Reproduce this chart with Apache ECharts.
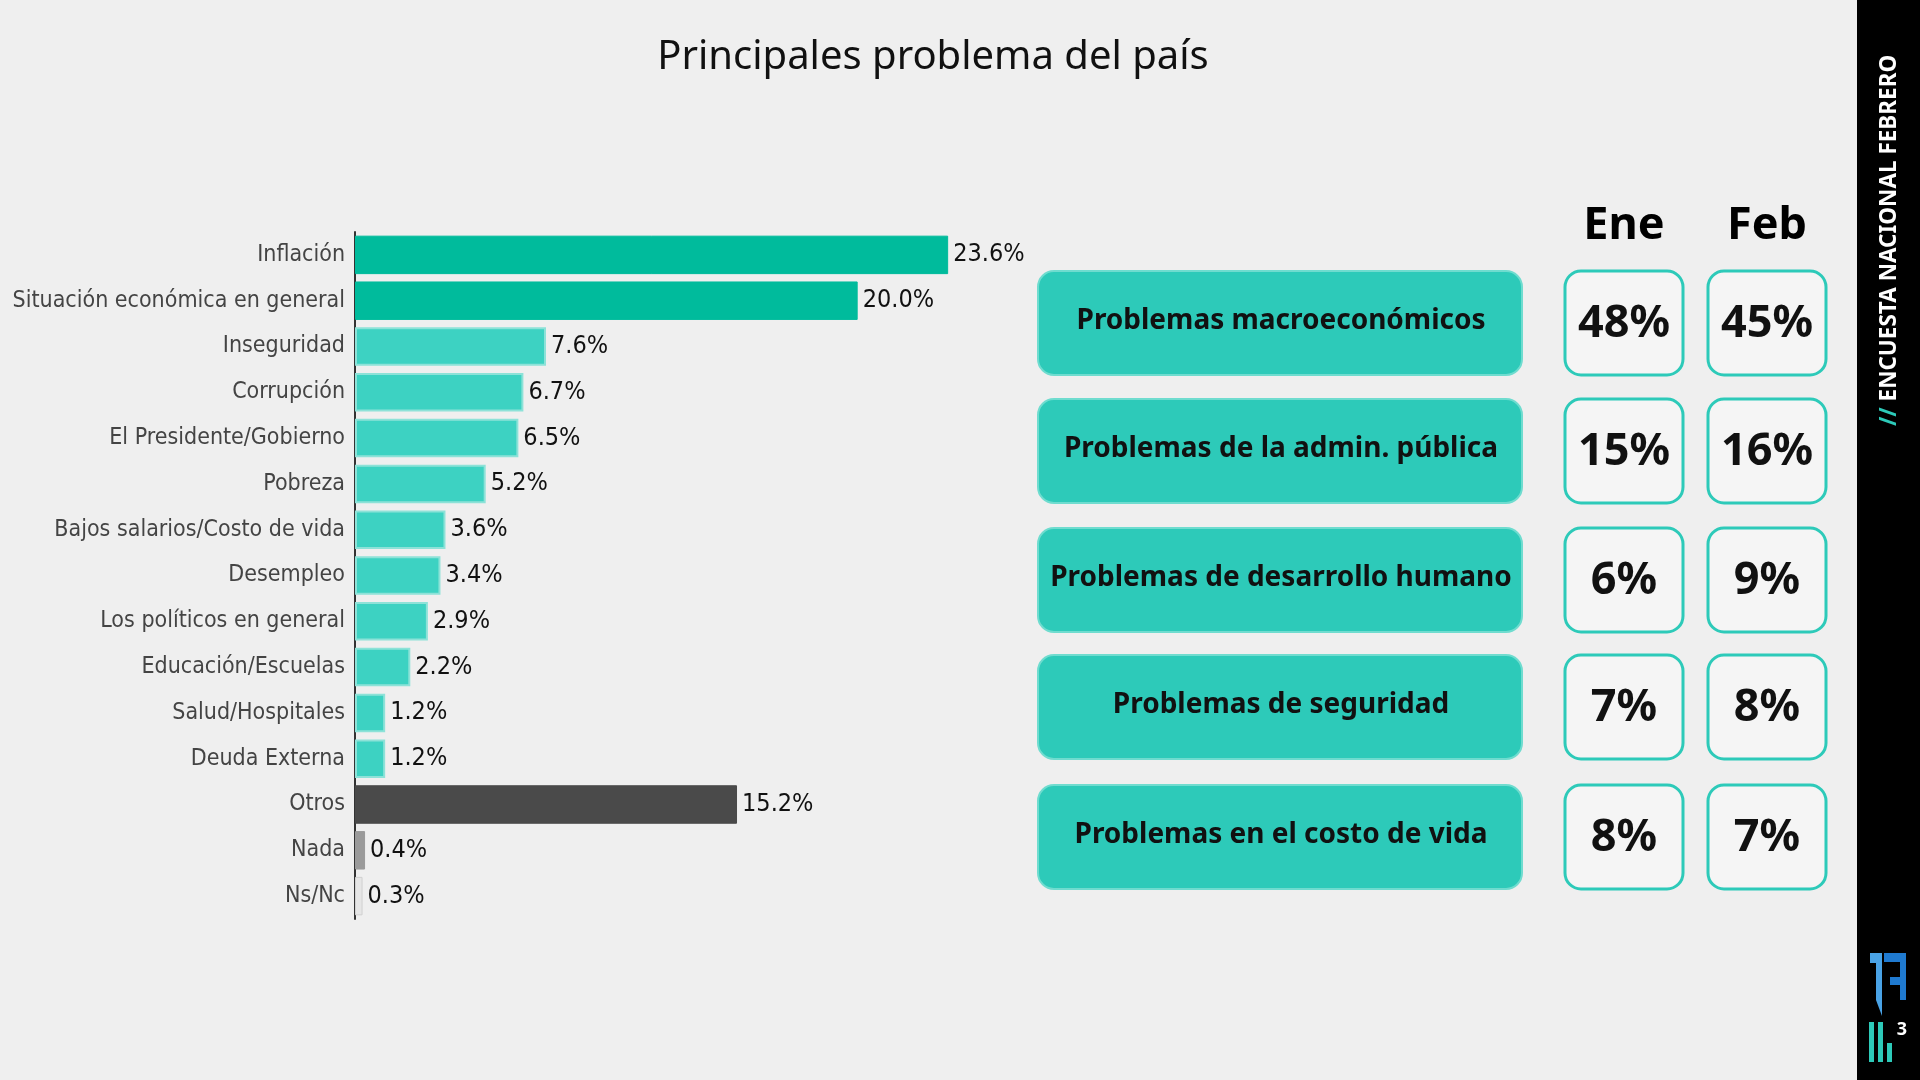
<!DOCTYPE html>
<html>
<head>
<meta charset="utf-8">
<script src="https://cdn.jsdelivr.net/npm/echarts@6/dist/echarts.min.js"></script>
<style>
  html, body { margin: 0; padding: 0; background: #efefef; }
  #chart { width: 1920px; height: 1080px; }
</style>
</head>
<body>
<div id="chart"></div>
<script>
// datos del grafico de barras
const categories = ['Inflación', 'Situación económica en general', 'Inseguridad', 'Corrupción',
  'El Presidente/Gobierno', 'Pobreza', 'Bajos salarios/Costo de vida', 'Desempleo',
  'Los políticos en general', 'Educación/Escuelas', 'Salud/Hospitales', 'Deuda Externa',
  'Otros', 'Nada', 'Ns/Nc']
const values = [23.6, 20.0, 7.6, 6.7, 6.5, 5.2, 3.6, 3.4, 2.9, 2.2, 1.2, 1.2, 15.2, 0.4, 0.3]

// tabla de la derecha
const groups = ['Problemas macroeconómicos', 'Problemas de la admin. pública',
  'Problemas de desarrollo humano', 'Problemas de seguridad', 'Problemas en el costo de vida']
const months = ['Ene', 'Feb']
const ene = [48, 15, 6, 7, 8]
const feb = [45, 16, 9, 8, 7]

const chart = echarts.init(document.getElementById('chart'))

function barStyle(name) {
  if (name === 'Inflación' || name === 'Situación económica en general') {
    return { color: '#00bb9c', borderColor: '#00bb9c', borderWidth: 1 }
  }
  if (name === 'Otros') return { color: '#4a4a4a', borderColor: '#4a4a4a', borderWidth: 1 }
  if (name === 'Nada') return { color: '#9a9a9a', borderColor: '#9a9a9a', borderWidth: 1 }
  if (name === 'Ns/Nc') return { color: '#e6e6e6', borderColor: '#d0d0d0', borderWidth: 1 }
  return { color: '#3dd2c2', borderColor: '#8de2d8', borderWidth: 2 }
}

const txtFont = '"Noto Sans", "DejaVu Sans", sans-serif'
const condFont = '"DejaVu Sans Condensed", "Liberation Sans Narrow", sans-serif'
const graphics = []

// titulos de columnas
const colX = [1624, 1767]
months.forEach((m, j) => {
  graphics.push({
    type: 'text', x: colX[j], y: 226,
    style: { text: m, fill: '#000', font: 'bold 45px ' + txtFont, textAlign: 'center', textVerticalAlign: 'middle' }
  })
})

// filas de la tabla
const rowTop = [271, 399, 528, 655, 785]
groups.forEach((g, i) => {
  const y = rowTop[i]
  graphics.push({
    type: 'rect', shape: { x: 1038, y: y, width: 484, height: 104, r: 16 },
    style: { fill: '#2dcab9', stroke: '#6fdccf', lineWidth: 2 }
  })
  graphics.push({
    type: 'text', x: 1281, y: y + 50,
    style: { text: g, fill: '#111', font: 'bold 28px ' + txtFont, textAlign: 'center', textVerticalAlign: 'middle' }
  })
  ;[ene[i], feb[i]].forEach((v, j) => {
    graphics.push({
      type: 'rect', shape: { x: colX[j] - 59, y: y, width: 118, height: 104, r: 16 },
      style: { fill: '#f5f5f5', stroke: '#2dcab9', lineWidth: 3 }
    })
    graphics.push({
      type: 'text', x: colX[j], y: y + 53,
      style: { text: v + '%', fill: '#111', font: 'bold 45px ' + txtFont, textAlign: 'center', textVerticalAlign: 'middle' }
    })
  })
})

// franja negra lateral
graphics.push({ type: 'rect', shape: { x: 1857, y: 0, width: 63, height: 1080 }, style: { fill: '#000' } })
graphics.push({
  type: 'text', x: 1890, y: 426, rotation: Math.PI / 2,
  style: {
    text: '{a|//} ENCUESTA NACIONAL FEBRERO', fill: '#fff', font: 'bold 22.5px ' + txtFont,
    textAlign: 'left', textVerticalAlign: 'middle',
    rich: { a: { fill: '#2dcab9', font: 'bold 22.5px ' + txtFont } }
  }
})
// logo
graphics.push({ type: 'polygon', shape: { points: [[1870, 953], [1882, 953], [1882, 1016], [1876, 1000], [1876, 963], [1870, 963]] }, style: { fill: '#4aa3e6' } })
graphics.push({ type: 'polygon', shape: { points: [[1884, 953], [1906, 953], [1906, 1000], [1900, 1000], [1900, 985], [1890, 985], [1890, 977], [1900, 977], [1900, 962], [1884, 962]] }, style: { fill: '#1f7ad0' } })
graphics.push({ type: 'rect', shape: { x: 1869, y: 1022, width: 5, height: 40 }, style: { fill: '#2dcab9' } })
graphics.push({ type: 'rect', shape: { x: 1878, y: 1022, width: 5, height: 40 }, style: { fill: '#2dcab9' } })
graphics.push({ type: 'rect', shape: { x: 1887, y: 1043, width: 5, height: 19 }, style: { fill: '#2dcab9' } })
graphics.push({
  type: 'text', x: 1902, y: 1030,
  style: { text: '3', fill: '#fff', font: 'bold 18px ' + txtFont, textAlign: 'center', textVerticalAlign: 'middle' }
})

chart.setOption({
  backgroundColor: '#efefef',
  animation: false,
  title: {
    text: 'Principales problema del país',
    left: 928, top: 33, textAlign: 'center',
    textStyle: { fontFamily: txtFont, fontWeight: 'normal', fontSize: 40, color: '#111' }
  },
  grid: { left: 355, top: 232, width: 754, height: 687, containLabel: false },
  xAxis: {
    type: 'value', min: 0, max: 30, show: false
  },
  yAxis: {
    type: 'category',
    data: categories,
    inverse: true,
    axisLine: { show: true, lineStyle: { color: '#333', width: 2 } },
    axisTick: { show: false },
    axisLabel: { color: '#444', fontSize: 23, margin: 10, fontFamily: condFont }
  },
  series: [{
    type: 'bar',
    barCategoryGap: '16%',
    data: values.map((v, i) => ({ value: v, itemStyle: barStyle(categories[i]) })),
    label: {
      show: true, position: 'right', distance: 5,
      color: '#111', fontSize: 25, fontFamily: condFont,
      formatter: p => p.value.toFixed(1) + '%'
    }
  }],
  graphic: graphics
})
</script>
</body>
</html>
